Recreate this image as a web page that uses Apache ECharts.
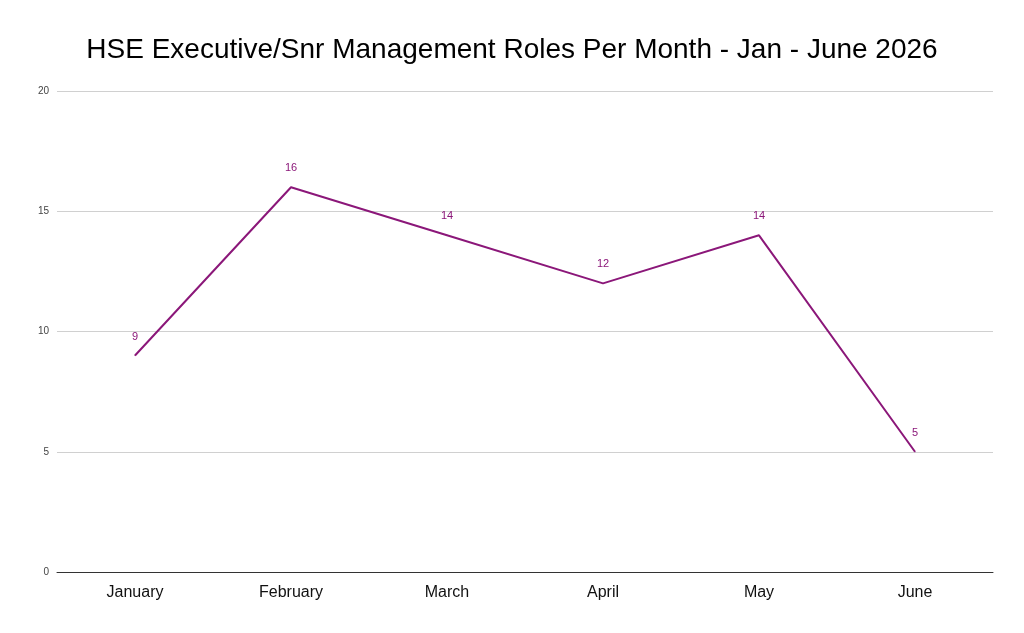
<!DOCTYPE html>
<html>
<head>
<meta charset="utf-8">
<script src="https://cdn.jsdelivr.net/npm/echarts@6/dist/echarts.min.js"></script>
<style>
  html, body { margin: 0; padding: 0; background: #fff; }
  #chart { width: 1024px; height: 633px; }
</style>
</head>
<body>
<div id="chart"></div>
<script>
  // data
  var months = ['January', 'February', 'March', 'April', 'May', 'June'];
  var roles = [9, 16, 14, 12, 14, 5];
  var yTicks = [0, 5, 10, 15, 20];

  var myChart = echarts.init(document.getElementById('chart'));
  var options = {
    backgroundColor: '#ffffff',
    title: {
      text: 'HSE Executive/Snr Management Roles Per Month - Jan - June 2026',
      left: 'center',
      top: 31,
      textStyle: {
        fontFamily: 'Liberation Sans, Arial, sans-serif',
        fontSize: 28,
        fontWeight: 'normal',
        color: '#000'
      }
    },
    grid: { left: 57, right: 31, top: 91, bottom: 61 },
    xAxis: {
      type: 'category',
      data: months,
      boundaryGap: true,
      axisLine: { lineStyle: { color: '#333', width: 1 } },
      axisTick: { show: false },
      axisLabel: {
        color: '#111',
        fontSize: 16,
        margin: 13,
        fontFamily: 'Liberation Sans, Arial, sans-serif'
      }
    },
    yAxis: {
      type: 'value',
      min: yTicks[0],
      max: yTicks[yTicks.length - 1],
      interval: 5,
      axisLine: { show: false },
      axisTick: { show: false },
      axisLabel: {
        color: '#444',
        fontSize: 10,
        margin: 8,
        fontFamily: 'Liberation Sans, Arial, sans-serif'
      },
      splitLine: { lineStyle: { color: '#d0d0d0', width: 1 } }
    },
    series: [{
      type: 'line',
      data: roles,
      symbol: 'circle',
      symbolSize: 1,
      showSymbol: true,
      lineStyle: { color: '#8b1779', width: 2 },
      itemStyle: { color: '#8b1779' },
      label: {
        show: true,
        position: 'top',
        distance: 13,
        color: '#8b1779',
        fontSize: 11,
        fontFamily: 'Liberation Sans, Arial, sans-serif'
      }
    }]
  };
  myChart.setOption(options);
</script>
</body>
</html>
